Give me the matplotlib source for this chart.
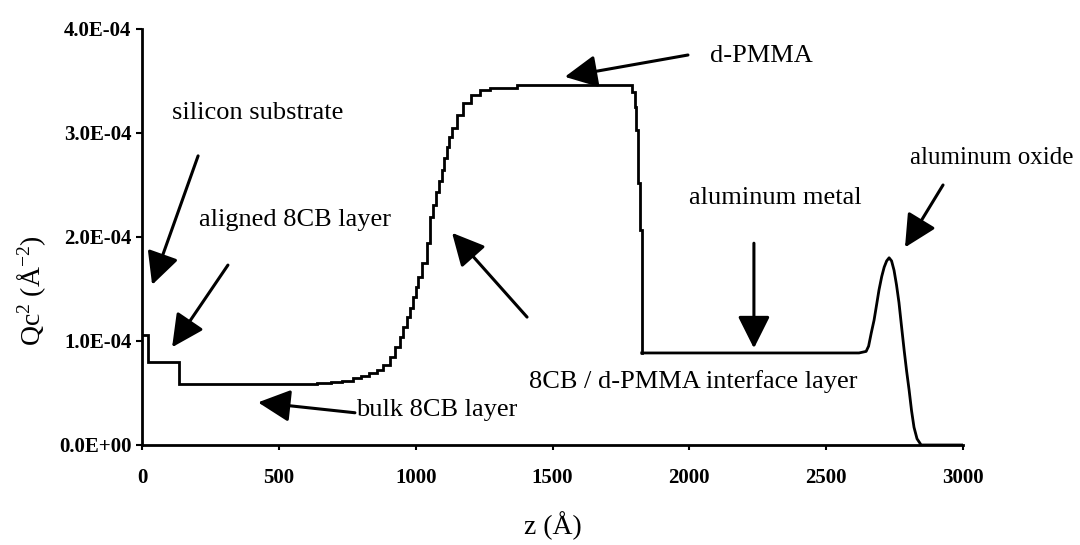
import matplotlib
matplotlib.use("Agg")
import matplotlib.pyplot as plt

plt.rcParams['font.family'] = ['Liberation Serif', 'DejaVu Serif']
plt.rcParams['mathtext.fontset'] = 'custom'
plt.rcParams['mathtext.rm'] = 'Liberation Serif'
plt.rcParams['mathtext.it'] = 'Liberation Serif:italic'

# ---- data: scattering length density profile (z in Å, Qc^2 in 1e-4 Å^-2) ----
# stepped part of the profile (substrate, 8CB, interface, d-PMMA)
z_steps = [0, 11, 22, 135, 595, 640, 690, 730, 770, 800, 830, 858, 880, 905, 925,
           942, 955, 967, 978, 989, 1000, 1010, 1022, 1040, 1051, 1062, 1073, 1084,
           1095, 1104, 1113, 1122, 1131, 1150, 1172, 1204, 1234, 1270, 1369, 1790,
           1800, 1806, 1812, 1818, 1826]
q_steps = [1.06, 1.06, 0.80, 0.59, 0.59, 0.60, 0.61, 0.62, 0.64, 0.66, 0.69, 0.72,
           0.77, 0.85, 0.94, 1.04, 1.13, 1.23, 1.32, 1.42, 1.52, 1.62, 1.75, 1.94,
           2.19, 2.31, 2.43, 2.54, 2.64, 2.76, 2.87, 2.96, 3.05, 3.17, 3.29, 3.37,
           3.41, 3.43, 3.46, 3.39, 3.25, 3.03, 2.52, 2.07, 0.885]
# smooth part (aluminum metal and aluminum oxide peak)
z_smooth = [1826, 2620, 2646, 2655, 2665, 2675, 2685, 2693, 2703, 2712, 2721, 2730,
            2739, 2748, 2757, 2766, 2775, 2785, 2794, 2803, 2812, 2821, 2832, 2847,
            3000]
q_smooth = [0.885, 0.885, 0.90, 0.95, 1.08, 1.20, 1.36, 1.49, 1.62, 1.71, 1.77, 1.80,
            1.77, 1.68, 1.54, 1.37, 1.15, 0.91, 0.71, 0.53, 0.33, 0.17, 0.06, 0.0,
            0.0]

x_ticks = [0, 500, 1000, 1500, 2000, 2500, 3000]
y_ticks = [0.0, 1e-4, 2e-4, 3e-4, 4e-4]
y_tick_labels = ["0.0E+00", "1.0E-04", "2.0E-04", "3.0E-04", "4.0E-04"]

# annotation labels: text, text position, arrow tail, arrow tip (data units)
labels = ["silicon substrate", "aligned 8CB layer", "bulk 8CB layer",
          "8CB / d-PMMA interface layer", "d-PMMA", "aluminum metal",
          "aluminum oxide"]
label_pos = [(424, 3.19e-4), (559, 2.16e-4), (1078, 0.34e-4), (2014, 0.61e-4),
             (2265, 3.74e-4), (2313, 2.375e-4), (3104, 2.76e-4)]
label_size = [19, 19, 19, 19, 19, 19, 18]
arrow_tail = [(205, 2.78e-4), (314, 1.73e-4), (778, 0.31e-4), (1407, 1.23e-4),
              (1995, 3.75e-4), (2236, 1.94e-4), (2927, 2.50e-4)]
arrow_tip = [(37, 1.54e-4), (110, 0.94e-4), (424, 0.41e-4), (1133, 2.04e-4),
             (1545, 3.54e-4), (2236, 0.93e-4), (2788, 1.90e-4)]

fig = plt.figure(figsize=(10.8, 5.45), dpi=100)
ax = fig.add_axes([142 / 1080, 1 - 445 / 545, (963 - 142) / 1080, (445 - 29) / 545])

ax.plot(z_steps, [v * 1e-4 for v in q_steps], color='black', lw=2.0,
        drawstyle='steps-post', solid_joinstyle='miter')
ax.plot(z_smooth, [v * 1e-4 for v in q_smooth], color='black', lw=2.0)
ax.set_xlim(0, 3000)
ax.set_ylim(0, 4e-4)

for s in ['top', 'right']:
    ax.spines[s].set_visible(False)
for s in ['left', 'bottom']:
    ax.spines[s].set_linewidth(2.0)

ax.set_xticks(x_ticks)
ax.set_xticklabels([str(t) for t in x_ticks], fontsize=15, fontweight='bold')
ax.set_yticks(y_ticks)
ax.set_yticklabels(y_tick_labels, fontsize=15, fontweight='bold')
ax.tick_params(axis='y', direction='out', length=4.5, width=1.5, pad=3)
ax.tick_params(axis='x', direction='out', length=3.5, width=1.5, pad=13)

for txt, (tx, ty), fs in zip(labels, label_pos, label_size):
    ax.text(tx, ty, txt, fontsize=fs, ha='center', va='center', clip_on=False)

for (x0, y0), (x1, y1) in zip(arrow_tail, arrow_tip):
    ax.annotate('', xy=(x1, y1), xytext=(x0, y0), annotation_clip=False,
                arrowprops=dict(arrowstyle='-|>,head_length=0.9,head_width=0.45',
                                mutation_scale=22, lw=2.2, color='black',
                                shrinkA=0, shrinkB=0))

fig.text(553 / 1080, 1 - 526 / 545, 'z (Å)', fontsize=20, ha='center', va='center')
fig.text(32 / 1080, 1 - 291 / 545, 'Qc$^{2}$ (Å$^{\\mathrm{-2}}$)', fontsize=20,
         ha='center', va='center', rotation=90)

fig.savefig('out.png', dpi=100, facecolor='white')
